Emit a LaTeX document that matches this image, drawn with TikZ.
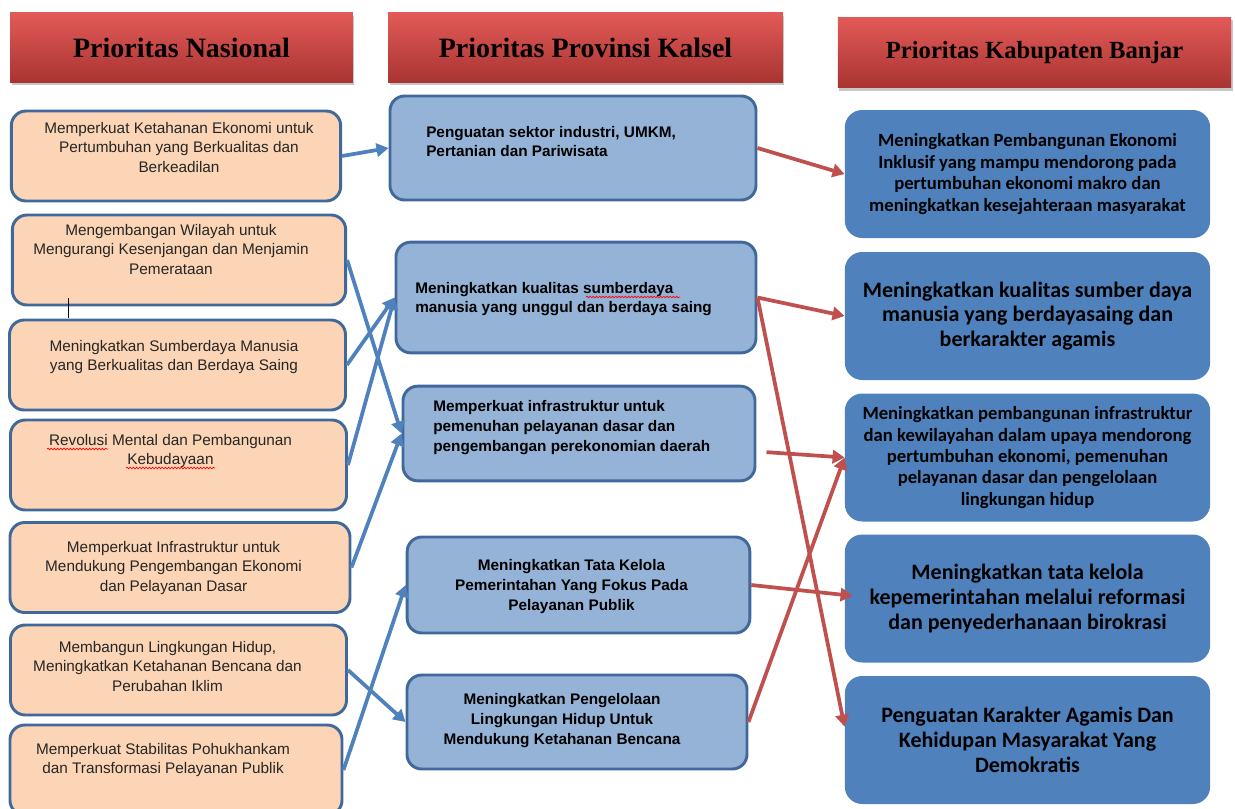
\documentclass[tikz,border=0pt]{standalone}
\usepackage{fontspec}
\setmainfont{Liberation Sans}
\newfontfamily\headfont{Liberation Serif}
\newfontfamily\kabfont{Carlito}
\usetikzlibrary{arrows.meta,shadows,decorations.pathmorphing}

\definecolor{hdtop}{HTML}{E25A57}
\definecolor{hdbot}{HTML}{A93431}
\definecolor{peach}{HTML}{FBD5B5}
\definecolor{boxline}{HTML}{41689A}
\definecolor{provfill}{HTML}{95B3D7}
\definecolor{kabfill}{HTML}{4F81BD}
\definecolor{arrblue}{HTML}{4F81BD}
\definecolor{arrred}{HTML}{C0504D}

\begin{document}
\begin{tikzpicture}[x=0.75pt,y=-0.75pt,
  header/.style={top color=hdtop,bottom color=hdbot,
    drop shadow={shadow xshift=1pt,shadow yshift=-2pt,opacity=.45},
    minimum height=52pt,font=\headfont\bfseries\fontsize{21}{24}\selectfont},
  lbox/.style={draw=boxline,line width=2.2pt,fill=peach,rounded corners=11pt,
    minimum width=252pt,minimum height=67.5pt},
  ltext/.style={align=center,inner sep=0pt,text=black!85,
    font=\fontsize{11.5}{14.5}\selectfont},
  mbox/.style={draw=boxline,line width=2.2pt,fill=provfill,rounded corners=11pt},
  mtext/.style={inner sep=0pt,font=\bfseries\fontsize{11.5}{14.8}\selectfont},
  rbox/.style={fill=kabfill,rounded corners=13pt,minimum width=274pt,
    minimum height=96pt,align=center,font=\kabfont\bfseries\fontsize{14}{16.1}\selectfont},
  rbig/.style={rbox,font=\kabfont\bfseries\fontsize{16.5}{18.5}\selectfont},
  barrow/.style={draw=arrblue,line width=2.8pt,-{Triangle[length=9pt,width=10pt]}},
  rarrow/.style={draw=arrred,line width=2.8pt,-{Triangle[length=9pt,width=10pt]}},
  spell/.style={draw=red,line width=.5pt,decorate,
    decoration={snake,amplitude=.6pt,segment length=2.4pt}}]
\useasboundingbox (0,0) rectangle (1235,808);

% judul kolom
\node[header,minimum width=257pt] (hnas) at (181.5,47.5) {Prioritas Nasional};
\node[header,minimum width=296pt] (hprov) at (585.5,47.5) {Prioritas Provinsi Kalsel};
\node[header,minimum width=295pt,minimum height=53pt,
  font=\headfont\bfseries\fontsize{18.5}{22}\selectfont] (hkab) at (1034.5,52.5) {Prioritas Kabupaten Banjar};

% prioritas nasional
\node[lbox,minimum width=247pt] (nas1) at (176,156) {};
\node[lbox,minimum width=250pt] (nas2) at (179,260) {};
\node[lbox] (nas3) at (177.5,365) {};
\node[lbox] (nas4) at (178.5,465) {};
\node[lbox,minimum width=255pt] (nas5) at (180,567.5) {};
\node[lbox] (nas6) at (178.5,670) {};
\node[lbox,minimum width=249pt] (nas7) at (176,770) {};

\node[ltext] (tnas1) at (179,147.5) {Memperkuat Ketahanan Ekonomi untuk\\Pertumbuhan yang Berkualitas dan\\Berkeadilan};
\node[ltext] (tnas2) at (171,249.5) {Mengembangan Wilayah untuk\\Mengurangi Kesenjangan dan Menjamin\\Pemerataan};
\node[ltext] (tnas3) at (174,357) {Meningkatkan Sumberdaya Manusia\\yang Berkualitas dan Berdaya Saing};
\node[ltext] (tnas4) at (170.5,451) {Revolusi Mental dan Pembangunan\\Kebudayaan};
\node[ltext] (tnas5) at (173.5,568) {Memperkuat Infrastruktur untuk\\Mendukung Pengembangan Ekonomi\\dan Pelayanan Dasar};
\node[ltext] (tnas6) at (167.5,666.5) {Membangun Lingkungan Hidup,\\Meningkatkan Ketahanan Bencana dan\\Perubahan Iklim};
\node[ltext] (tnas7) at (163,760) {Memperkuat Stabilitas Pohukhankam\\dan Transformasi Pelayanan Publik};

\draw[black,line width=.6pt] (68,298) -- (68,318);

% prioritas provinsi
\node[mbox,minimum width=274.5pt,minimum height=78pt] (prov1) at (573,148) {};
\node[mbox,minimum width=270pt,minimum height=83pt] (prov2) at (576,297.5) {};
\node[mbox,minimum width=264pt,minimum height=71pt] (prov3) at (579,433.5) {};
\node[mbox,minimum width=257pt,minimum height=72pt] (prov4) at (578.5,585) {};
\node[mbox,minimum width=255pt,minimum height=70.5pt] (prov5) at (577,722) {};

\node[mtext,anchor=west,align=left] (tprov1) at (426,141.5) {Penguatan sektor industri, UMKM,\\Pertanian dan Pariwisata};
\node[mtext,anchor=west,align=left] (tprov2) at (415,299) {Meningkatkan kualitas sumberdaya\\manusia yang unggul dan berdaya saing};
\node[mtext,anchor=west,align=left] (tprov3) at (433,427.5) {Memperkuat infrastruktur untuk\\pemenuhan pelayanan dasar dan\\pengembangan perekonomian daerah};
\node[mtext,align=center] (tprov4) at (571.5,586.5) {Meningkatkan Tata Kelola\\Pemerintahan Yang Fokus Pada\\Pelayanan Publik};
\node[mtext,align=center] (tprov5) at (562,720.5) {Meningkatkan Pengelolaan\\Lingkungan Hidup Untuk\\Mendukung Ketahanan Bencana};

\draw[spell] (47,449) -- (108,449);
\draw[spell] (126,468) -- (215,468);
\draw[spell] (586,297) -- (680,297);

% prioritas kabupaten
\node[rbox] (kab1) at (1027.5,174) {Meningkatkan Pembangunan Ekonomi\\Inklusif yang mampu mendorong pada\\pertumbuhan ekonomi makro dan\\meningkatkan kesejahteraan masyarakat};
\node[rbig] (kab2) at (1027.5,316) {Meningkatkan kualitas sumber daya\\manusia yang berdayasaing dan\\berkarakter agamis};
\node[rbox] (kab3) at (1027.5,457.5) {Meningkatkan pembangunan infrastruktur\\dan kewilayahan dalam upaya mendorong\\pertumbuhan ekonomi, pemenuhan\\pelayanan dasar dan pengelolaan\\lingkungan hidup};
\node[rbig] (kab4) at (1027.5,598.5) {Meningkatkan tata kelola\\kepemerintahan melalui reformasi\\dan penyederhanaan birokrasi};
\node[rbig] (kab5) at (1027.5,740) {Penguatan Karakter Agamis Dan\\Kehidupan Masyarakat Yang\\Demokratis};

% nasional -> provinsi
\draw[barrow] (nas1.east) -- (prov1.west);
\draw[barrow] (nas2.east) -- (prov3.west);
\draw[barrow] (nas3.east) -- (prov2.west);
\draw[barrow] (nas4.east) -- (prov2.west);
\draw[barrow] (nas5.east) -- (prov3.west);
\draw[barrow] (nas6.east) -- (prov5.west);
\draw[barrow] (nas7.east) -- (prov4.west);

% provinsi -> kabupaten
\draw[rarrow] (prov1.east) -- (kab1.west);
\draw[rarrow] (prov2.east) -- (kab2.west);
\draw[rarrow] (prov2.east) -- ([yshift=10pt]kab5.west);
\draw[rarrow] ([xshift=7.5pt,yshift=-14pt]prov3.east) -- (kab3.west);
\draw[rarrow] (prov4.east) -- ([xshift=6pt,yshift=2pt]kab4.west);
\draw[rarrow] (prov5.east) -- (kab3.west);
\end{tikzpicture}
\end{document}
